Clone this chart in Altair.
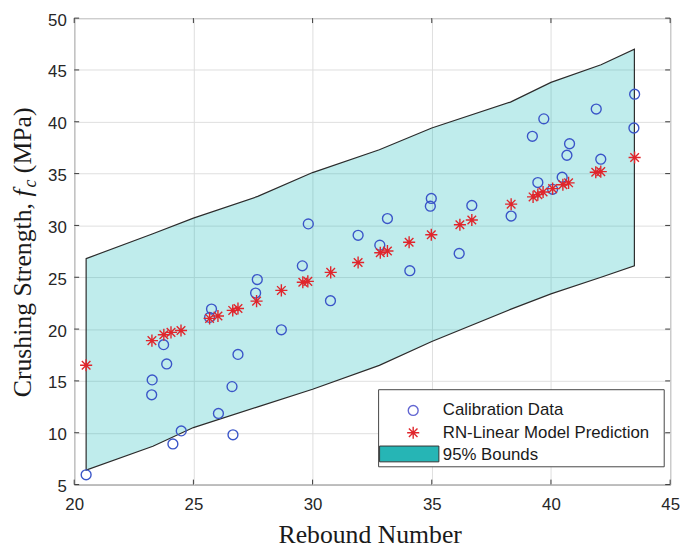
import altair as alt
import pandas as pd

# ---------------- data ----------------
calib_x = [20.5, 23.27, 23.25, 23.75, 23.88, 24.14, 24.49, 25.76, 25.68, 26.05,
           26.62, 26.66, 26.87, 27.68, 27.61, 28.69, 29.57, 29.82, 30.75, 31.91,
           32.82, 33.14, 34.08, 34.98, 34.94, 36.15, 36.68, 38.33, 39.22, 39.70,
           39.45, 40.07, 40.47, 40.67, 40.78, 41.90, 42.09, 43.51, 43.48]
calib_y = [5.94, 15.1, 13.66, 18.5, 16.64, 8.92, 10.18, 21.93, 21.13, 11.86,
           14.45, 9.8, 17.56, 24.78, 23.48, 19.93, 26.1, 30.15, 22.74, 29.05,
           28.1, 30.66, 25.63, 32.6, 31.86, 27.3, 31.93, 30.9, 38.6, 40.28,
           34.14, 33.48, 34.65, 36.77, 37.88, 41.23, 36.39, 42.66, 39.4]

pred_x = [20.5, 23.26, 23.76, 24.06, 24.48, 25.68, 26.03, 26.65, 26.87, 27.65,
          28.69, 29.59, 29.8, 30.76, 31.91, 32.84, 33.14, 34.05, 34.98, 36.18,
          36.68, 38.33, 39.25, 39.45, 39.67, 40.07, 40.5, 40.74, 41.88, 42.09, 43.51]
pred_y = [16.51, 18.89, 19.46, 19.68, 19.87, 21.03, 21.26, 21.8, 21.99, 22.7,
          23.73, 24.52, 24.6, 25.47, 26.42, 27.37, 27.53, 28.38, 29.1, 30.06,
          30.53, 32.05, 32.75, 32.97, 33.23, 33.55, 33.92, 34.11, 35.13, 35.19, 36.55]

band_x = [20.5, 23.3, 25.0, 27.7, 30.0, 32.8, 35.0, 38.3, 40.0, 42.1, 43.5]
band_upper = [26.8, 29.2, 30.7, 32.8, 35.1, 37.3, 39.4, 41.9, 43.8, 45.5, 47.0]
band_lower = [6.4, 8.7, 10.5, 12.5, 14.2, 16.5, 18.8, 21.9, 23.4, 25.0, 26.1]

x_ticks = [20, 25, 30, 35, 40, 45]
y_ticks = [5, 10, 15, 20, 25, 30, 35, 40, 45, 50]

legend_labels = ["Calibration Data", "RN-Linear Model Prediction", "95% Bounds"]
x_title = "Rebound Number"
y_title_parts = ["Crushing Strength,", "f", "c", "(MPa)"]

# ---------------- layout ----------------
W, H = 603, 472
SERIF = "Liberation Serif"
SANS = "Liberation Sans"
TFS = 26

xs = alt.Scale(domain=[20, 45], nice=False, zero=False)
ys = alt.Scale(domain=[5, 50], nice=False, zero=False)

calib_df = pd.DataFrame({"x": calib_x, "y": calib_y})
pred_df = pd.DataFrame({"x": pred_x, "y": pred_y})
band_df = pd.DataFrame({"x": band_x, "up": band_upper, "lo": band_lower})
xt_df = pd.DataFrame({"t": x_ticks})
yt_df = pd.DataFrame({"t": y_ticks})

STAR = "M-1,0L1,0M0,-1L0,1M-0.71,-0.71L0.71,0.71M-0.71,0.71L0.71,-0.71"
CIRC_COL = "#3a55c8"
STAR_COL = "#e0262c"

band = alt.Chart(band_df).mark_area(
    fill="#00b3b3", fillOpacity=0.25, stroke="#2b2b2b", strokeWidth=1.2
).encode(
    x=alt.X("x:Q", scale=xs, axis=alt.Axis(values=x_ticks, title=None, labelPadding=12,
                                           labelFlush=False)),
    y=alt.Y("up:Q", scale=ys, axis=alt.Axis(values=y_ticks, title=None, labelPadding=8,
                                            labelFlush=False, labelOffset=2)),
    y2="lo:Q",
)

circles = alt.Chart(calib_df).mark_point(
    shape="circle", filled=False, color=CIRC_COL, size=100, strokeWidth=1.4, opacity=1
).encode(x=alt.X("x:Q", scale=xs), y=alt.Y("y:Q", scale=ys))

stars = alt.Chart(pred_df).mark_point(
    shape=STAR, filled=False, color=STAR_COL, size=150, strokeWidth=1.4, opacity=1
).encode(x=alt.X("x:Q", scale=xs), y=alt.Y("y:Q", scale=ys))

TL = 5
TC = "#3a3a3a"
tick_b = alt.Chart(xt_df).mark_rule(color=TC, strokeWidth=1).encode(
    x=alt.X("t:Q", scale=xs), y=alt.value(H), y2=alt.value(H - TL))
tick_t = alt.Chart(xt_df).mark_rule(color=TC, strokeWidth=1).encode(
    x=alt.X("t:Q", scale=xs), y=alt.value(0), y2=alt.value(TL))
tick_l = alt.Chart(yt_df).mark_rule(color=TC, strokeWidth=1).encode(
    y=alt.Y("t:Q", scale=ys), x=alt.value(0), x2=alt.value(TL))
tick_r = alt.Chart(yt_df).mark_rule(color=TC, strokeWidth=1).encode(
    y=alt.Y("t:Q", scale=ys), x=alt.value(W), x2=alt.value(W - TL))

# ---------------- legend ----------------
one = pd.DataFrame({"a": [0]})
LX0, LX1, LY0, LY1 = 308, 597, 376, 454
leg_box = alt.Chart(one).mark_rect(fill="white", stroke="#444444", strokeWidth=1).encode(
    x=alt.value(LX0), x2=alt.value(LX1), y=alt.value(LY0), y2=alt.value(LY1))
leg_circ = alt.Chart(one).mark_point(
    shape="circle", filled=False, color="#6266d2", size=100, strokeWidth=1.4, opacity=1
).encode(x=alt.value(343), y=alt.value(397))
leg_star = alt.Chart(one).mark_point(
    shape=STAR, filled=False, color=STAR_COL, size=150, strokeWidth=1.4, opacity=1
).encode(x=alt.value(343), y=alt.value(419.5))
leg_swatch = alt.Chart(one).mark_rect(fill="#26b5b5", stroke="#333333", strokeWidth=1).encode(
    x=alt.value(309), x2=alt.value(369), y=alt.value(433), y2=alt.value(449))
leg_texts = []
for lab, yy in zip(legend_labels, [397, 419.5, 442]):
    leg_texts.append(
        alt.Chart(pd.DataFrame({"label": [lab]})).mark_text(
            font=SANS, fontSize=17, align="left", baseline="middle", color="#1a1a1a"
        ).encode(text="label:N", x=alt.value(373), y=alt.value(yy))
    )

# ---------------- titles ----------------
xt = alt.Chart(pd.DataFrame({"label": [x_title]})).mark_text(
    font=SERIF, fontSize=TFS, align="center", baseline="alphabetic", color="#1a1a1a"
).encode(text="label:N", x=alt.value(W / 2 - 2), y=alt.value(531))

# widths with Times metrics (Liberation Serif is metric compatible)
SP = 0.25 * TFS
w1 = 7.556 * TFS + SP
wf = 0.278 * TFS + 2
SUBFS = 18
wc = 0.444 * SUBFS + SP
w4 = 2.555 * TFS
total = w1 + wf + wc + w4
y0 = H / 2 + 1 + total / 2
BX = -44


def ypart(txt, ypos, xpos, fs, style="normal"):
    return alt.Chart(pd.DataFrame({"label": [txt]})).mark_text(
        font=SERIF, fontSize=fs, fontStyle=style, angle=270, align="left",
        baseline="alphabetic", color="#1a1a1a"
    ).encode(text="label:N", x=alt.value(xpos), y=alt.value(ypos))


ytitle = [
    ypart(y_title_parts[0], y0, BX, TFS),
    ypart(y_title_parts[1], y0 - w1, BX, TFS, "italic"),
    ypart(y_title_parts[2], y0 - w1 - wf, BX + 5, SUBFS, "italic"),
    ypart(y_title_parts[3], y0 - w1 - wf - wc, BX, TFS),
]

chart = alt.layer(
    band, circles, stars, tick_b, tick_t, tick_l, tick_r,
    leg_box, leg_circ, leg_star, leg_swatch, *leg_texts, xt, *ytitle
).properties(
    width=W, height=H,
    autosize=alt.AutoSizeParams(type="none"),
    padding={"left": 67, "top": 7, "right": 12, "bottom": 66},
).configure_view(
    stroke="#3a3a3a", strokeWidth=1
).configure_axis(
    grid=True, gridColor="#dedede", gridWidth=1, domain=False, ticks=False,
    labelFont=SANS, labelFontSize=17, labelColor="#262626"
)

chart.save("out.html", embed_options={"renderer": "svg", "actions": False})
